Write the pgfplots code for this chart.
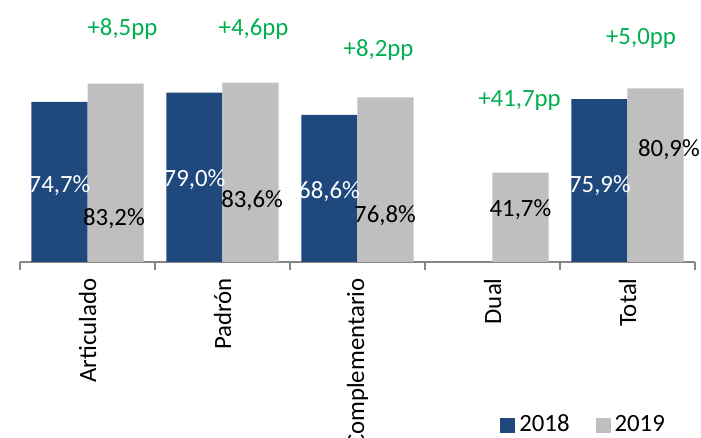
\documentclass[border=0pt]{standalone}
\usepackage{fontspec}
\setmainfont{Carlito}
\usepackage{pgfplots}
\pgfplotsset{compat=1.18}
\definecolor{blu}{HTML}{1F497D}
\definecolor{gry}{HTML}{BFBFBF}
\definecolor{grn}{HTML}{00B050}
\definecolor{axgray}{HTML}{868686}
\newcommand\lf{\fontsize{12.4}{14.5}\selectfont}
\begin{document}
\begin{tikzpicture}
\path[use as bounding box] (0,0) rectangle (350.5pt,219pt);
\begin{axis}[
  at={(10pt,88pt)}, anchor=south west,
  scale only axis, width=337.5pt, height=107.25pt,
  xmin=-0.5, xmax=4.5, ymin=0, ymax=100,
  axis x line*=bottom, axis y line=none,
  x axis line style={draw=axgray, line width=0.75pt},
  xtick={0,...,4},
  xticklabels={Articulado,Padrón,Complementario,Dual,Total},
  major tick length=0pt,
  minor xtick={-0.5,0.5,...,4.5},
  minor tick length=4pt,
  xtick align=outside,
  minor tick style={draw=axgray, line width=0.75pt},
  xticklabel style={rotate=90, anchor=east, inner sep=0pt, font=\lf},
  xticklabel shift=8pt,
  ytick=\empty,
  clip=false,
  ybar, bar width=0.415,
  legend columns=2,
  legend style={at={(0.711,-0.76)}, anchor=west, draw=none, fill=none,
    inner sep=0pt, font=\lf,
    /tikz/every even column/.append style={column sep=11pt}},
  legend image code/.code={\fill[#1] (0pt,-3.75pt) rectangle (7.5pt,3.75pt);},
]
\addplot[fill=blu, draw=none, bar shift=-0.2075]
  coordinates {(0,74.7) (1,79.0) (2,68.6) (4,75.9)};
\addplot[fill=gry, draw=none, bar shift=0.2075]
  coordinates {(0,83.2) (1,83.6) (2,76.8) (3,41.7) (4,80.9)};
\legend{2018,2019}

% data labels
\node[white, font=\lf, anchor=base] at (axis cs:-0.207,32.6) {74,7\%};
\node[white, font=\lf, anchor=base] at (axis cs:0.793,35.0) {79,0\%};
\node[white, font=\lf, anchor=base] at (axis cs:1.789,29.8) {68,6\%};
\node[white, font=\lf, anchor=base] at (axis cs:3.796,32.6) {75,9\%};
\node[black, font=\lf, anchor=base] at (axis cs:0.196,17.2) {83,2\%};
\node[black, font=\lf, anchor=base] at (axis cs:1.219,25.2) {83,6\%};
\node[black, font=\lf, anchor=base] at (axis cs:2.204,18.6) {76,8\%};
\node[black, font=\lf, anchor=base] at (axis cs:3.207,21.0) {41,7\%};
\node[black, font=\lf, anchor=base] at (axis cs:4.307,49.4) {80,9\%};

% differences
\node[grn, font=\lf, anchor=base] at (axis cs:0.259,105.8) {+8,5pp};
\node[grn, font=\lf, anchor=base] at (axis cs:1.230,105.8) {+4,6pp};
\node[grn, font=\lf, anchor=base] at (axis cs:2.156,95.6) {+8,2pp};
\node[grn, font=\lf, anchor=base] at (axis cs:3.200,72.7) {+41,7pp};
\node[grn, font=\lf, anchor=base] at (axis cs:4.100,101.2) {+5,0pp};
\end{axis}
\end{tikzpicture}
\end{document}
